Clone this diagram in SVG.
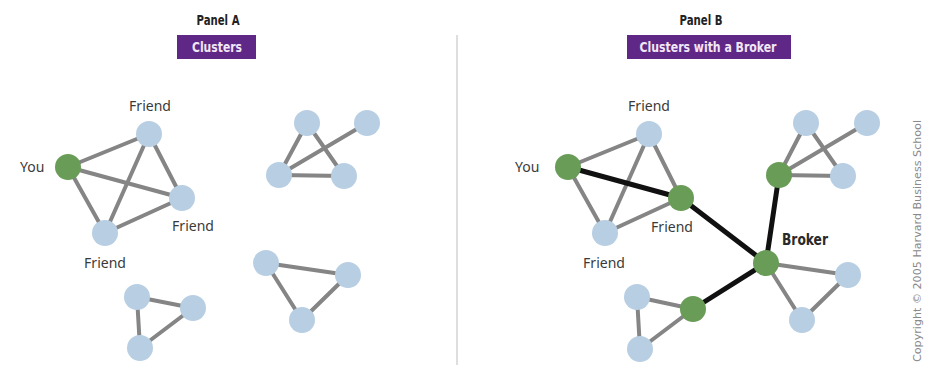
<svg xmlns="http://www.w3.org/2000/svg" width="930" height="365" viewBox="0 0 930 365">
<style>
.bg{fill:#ffffff}
.e{stroke:#858585;stroke-width:4;stroke-linecap:round}
.k{stroke:#111111;stroke-width:5;stroke-linecap:round}
.b{fill:#b8cee3}
.g{fill:#699c57}
.lbl{font-family:"Noto Sans","Open Sans",sans-serif;font-size:14px;fill:#3a3a3a}
.ttl{font-family:"DejaVu Sans Condensed","DejaVu Sans",sans-serif;font-weight:bold;font-size:14px;fill:#222}
.box{fill:#5f2786}
.btx{font-family:"DejaVu Sans Condensed","DejaVu Sans",sans-serif;font-weight:bold;font-size:14px;fill:#f1e8f6}
.brk{font-family:"DejaVu Sans Condensed","DejaVu Sans",sans-serif;font-weight:bold;font-size:15px;fill:#2a2a2a}
.copy{font-family:"DejaVu Sans Condensed","DejaVu Sans",sans-serif;font-size:11px;fill:#8a8a8a}
</style>
<rect class="bg" x="0" y="0" width="930" height="365"/>
<line x1="457" y1="35" x2="457" y2="365" stroke="#bdbdbd" stroke-width="1"/>

<g id="titleA">
<text class="ttl" x="218" y="25" text-anchor="middle" textLength="43" lengthAdjust="spacingAndGlyphs">Panel A</text>
<rect class="box" x="177" y="35" width="79" height="24"/>
<text class="btx" x="217" y="52" text-anchor="middle" textLength="50" lengthAdjust="spacingAndGlyphs">Clusters</text>
</g>
<g id="titleB">
<text class="ttl" x="701" y="25" text-anchor="middle" textLength="43" lengthAdjust="spacingAndGlyphs">Panel B</text>
<rect class="box" x="627" y="35" width="164" height="24"/>
<text class="btx" x="708" y="52" text-anchor="middle" textLength="137" lengthAdjust="spacingAndGlyphs">Clusters with a Broker</text>
</g>

<g id="connectors">
<line class="e" x1="68" y1="167" x2="149" y2="134"/>
<line class="e" x1="68" y1="167" x2="182" y2="198"/>
<line class="e" x1="68" y1="167" x2="105" y2="233"/>
<line class="e" x1="149" y1="134" x2="182" y2="198"/>
<line class="e" x1="149" y1="134" x2="105" y2="233"/>
<line class="e" x1="182" y1="198" x2="105" y2="233"/>
<line class="e" x1="307" y1="123" x2="279" y2="175"/>
<line class="e" x1="307" y1="123" x2="344" y2="176"/>
<line class="e" x1="279" y1="175" x2="344" y2="176"/>
<line class="e" x1="279" y1="175" x2="367" y2="123"/>
<line class="e" x1="266" y1="263" x2="348" y2="275"/>
<line class="e" x1="266" y1="263" x2="302" y2="320"/>
<line class="e" x1="348" y1="275" x2="302" y2="320"/>
<line class="e" x1="137" y1="297" x2="193" y2="308"/>
<line class="e" x1="137" y1="297" x2="140" y2="348"/>
<line class="e" x1="193" y1="308" x2="140" y2="348"/>
<line class="e" x1="568" y1="167" x2="649" y2="134"/>
<line class="e" x1="568" y1="167" x2="605" y2="233"/>
<line class="e" x1="649" y1="134" x2="681" y2="198"/>
<line class="e" x1="649" y1="134" x2="605" y2="233"/>
<line class="e" x1="681" y1="198" x2="605" y2="233"/>
<line class="e" x1="806" y1="123" x2="779" y2="175"/>
<line class="e" x1="806" y1="123" x2="843" y2="176"/>
<line class="e" x1="779" y1="175" x2="843" y2="176"/>
<line class="e" x1="779" y1="175" x2="867" y2="123"/>
<line class="e" x1="766" y1="263" x2="848" y2="275"/>
<line class="e" x1="766" y1="263" x2="802" y2="320"/>
<line class="e" x1="848" y1="275" x2="802" y2="320"/>
<line class="e" x1="637" y1="297" x2="693" y2="309"/>
<line class="e" x1="637" y1="297" x2="640" y2="349"/>
<line class="e" x1="693" y1="309" x2="640" y2="349"/>
<line class="k" x1="568" y1="167" x2="681" y2="198"/>
<line class="k" x1="681" y1="198" x2="766" y2="263"/>
<line class="k" x1="766" y1="263" x2="779" y2="175"/>
<line class="k" x1="766" y1="263" x2="693" y2="309"/>
</g>

<g id="A_you"><circle class="g" cx="68" cy="167" r="13"/><text class="lbl" x="20" y="172">You</text></g>
<g id="A_friend1"><circle class="b" cx="149" cy="134" r="13"/><text class="lbl" x="150" y="111" text-anchor="middle">Friend</text></g>
<g id="A_friend2"><circle class="b" cx="182" cy="198" r="13"/><text class="lbl" x="193" y="231" text-anchor="middle">Friend</text></g>
<g id="A_friend3"><circle class="b" cx="105" cy="233" r="13"/><text class="lbl" x="105" y="268" text-anchor="middle">Friend</text></g>
<g id="A_c2n1"><circle class="b" cx="307" cy="123" r="13"/></g>
<g id="A_c2n2"><circle class="b" cx="367" cy="123" r="13"/></g>
<g id="A_c2n3"><circle class="b" cx="279" cy="175" r="13"/></g>
<g id="A_c2n4"><circle class="b" cx="344" cy="176" r="13"/></g>
<g id="A_c3n1"><circle class="b" cx="266" cy="263" r="13"/></g>
<g id="A_c3n2"><circle class="b" cx="348" cy="275" r="13"/></g>
<g id="A_c3n3"><circle class="b" cx="302" cy="320" r="13"/></g>
<g id="A_c4n1"><circle class="b" cx="137" cy="297" r="13"/></g>
<g id="A_c4n2"><circle class="b" cx="193" cy="308" r="13"/></g>
<g id="A_c4n3"><circle class="b" cx="140" cy="348" r="13"/></g>

<g id="B_you"><circle class="g" cx="568" cy="167" r="13"/><text class="lbl" x="515" y="172">You</text></g>
<g id="B_friend1"><circle class="b" cx="649" cy="134" r="13"/><text class="lbl" x="649" y="111" text-anchor="middle">Friend</text></g>
<g id="B_friend2"><circle class="g" cx="681" cy="198" r="13"/><text class="lbl" x="672" y="232" text-anchor="middle">Friend</text></g>
<g id="B_friend3"><circle class="b" cx="605" cy="233" r="13"/><text class="lbl" x="604" y="268" text-anchor="middle">Friend</text></g>
<g id="B_c2n1"><circle class="b" cx="806" cy="123" r="13"/></g>
<g id="B_c2n2"><circle class="b" cx="867" cy="123" r="13"/></g>
<g id="B_c2n3"><circle class="g" cx="779" cy="175" r="13"/></g>
<g id="B_c2n4"><circle class="b" cx="843" cy="176" r="13"/></g>
<g id="B_broker"><circle class="g" cx="766" cy="263" r="13"/><text class="brk" x="782" y="245" textLength="46" lengthAdjust="spacingAndGlyphs">Broker</text></g>
<g id="B_c3n2"><circle class="b" cx="848" cy="275" r="13"/></g>
<g id="B_c3n3"><circle class="b" cx="802" cy="320" r="13"/></g>
<g id="B_c4n1"><circle class="b" cx="637" cy="297" r="13"/></g>
<g id="B_c4n2"><circle class="g" cx="693" cy="309" r="13"/></g>
<g id="B_c4n3"><circle class="b" cx="640" cy="349" r="13"/></g>

<text class="copy" transform="translate(921,362) rotate(-90)" textLength="242" lengthAdjust="spacingAndGlyphs">Copyright © 2005 Harvard Business School</text>
</svg>
